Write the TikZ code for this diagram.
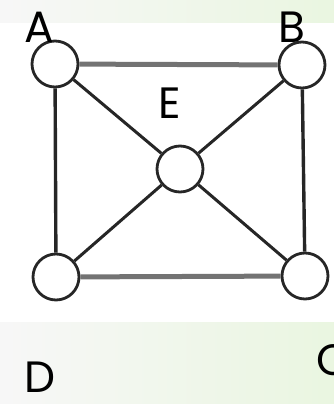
\documentclass[tikz,border=0pt]{standalone}
\usepackage{fontspec}
\setmainfont{Poppins}
\usetikzlibrary{positioning}
\tikzset{
  nd/.style={circle,draw=black!85,fill=white,minimum size=46bp,inner sep=0pt,line width=2.8bp},
  lb/.style={font=\fontsize{44}{48}\selectfont,inner sep=0pt,text depth=0pt},
  lnkh/.style={draw=black!55,line width=5bp},
  lnkv/.style={draw=black!85,line width=3.4bp},
  lnkd/.style={draw=black!85,line width=3bp},
  band/.style={left color=black!3!white,right color=green!40!olive!12!white,draw=none},
}
\begin{document}
\begin{tikzpicture}[x=1bp,y=-1bp]
\useasboundingbox (0,0) rectangle (334,404);
\clip (0,0) rectangle (334,404);
% bands
\fill[band] (0,0) rectangle (334,22);
\fill[band] (0,322) rectangle (334,404);
% vertices
\node[nd] (A) at (55,64) {};
\node[nd] (B) at (302,65) {};
\node[nd] (E) at (180,169) {};
\node[nd] (D) at (56,277) {};
\node[nd] (C) at (305,276) {};
% edges
\draw[lnkh] (A) -- (B);
\draw[lnkh] (D) -- (C);
\draw[lnkv] (A) -- (D);
\draw[lnkv] (B) -- (C);
\draw[lnkd] (A) -- (E) (B) -- (E) (D) -- (E) (C) -- (E);
% labels
\node[lb] (lA) at (39,27) {A};
\node[lb] (lB) at (292,27) {B};
\node[lb] (lE) at (170,103) {E};
\node[lb] (lD) at (40,377) {D};
\node[lb] (lC) at (333,360) {C};
\end{tikzpicture}
\end{document}
